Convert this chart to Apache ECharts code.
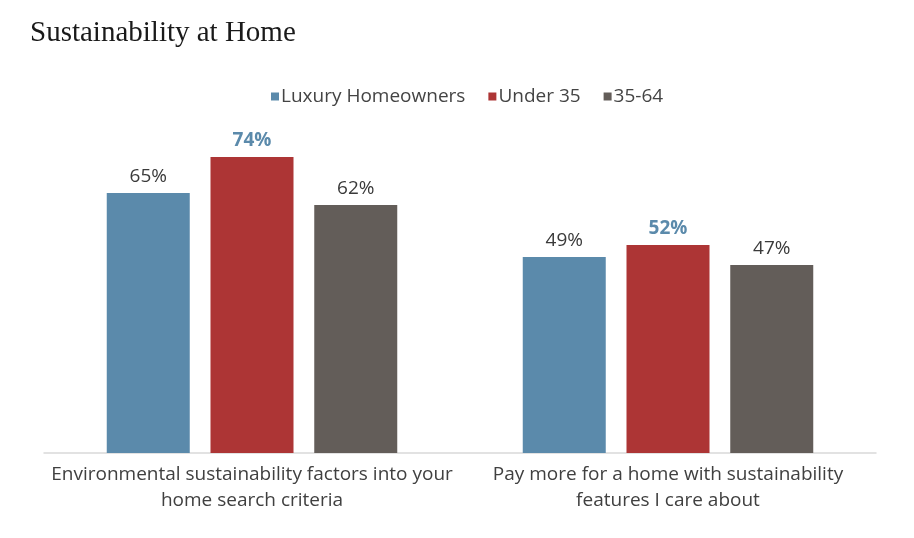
<!DOCTYPE html>
<html><head><meta charset="utf-8">
<script src="https://cdn.jsdelivr.net/npm/echarts@6/dist/echarts.min.js"></script>
<style>html,body{margin:0;padding:0;background:#fff}#c{width:914px;height:538px}</style>
</head><body><div id="c"></div>
<script>
const categories = ["Environmental sustainability factors into your\nhome search criteria", "Pay more for a home with sustainability\nfeatures I care about"];
const seriesNames = ["Luxury Homeowners", "Under 35", "35-64"];
const luxury = [65, 49];
const under35 = [74, 52];
const age35to64 = [62, 47];
const colors = ["#5b8aab", "#ad3535", "#635d59"];

const chart = echarts.init(document.getElementById('c'));
const labelFont = "'Open Sans', sans-serif";
function mk(name, data, color, highlight) {
  return {
    name: name, type: 'bar', data: data, barWidth: 83, barGap: '25%',
    itemStyle: {color: color},
    label: {show: true, position: 'top', distance: 7, formatter: '{c}%',
      fontFamily: labelFont, fontSize: 19, color: highlight ? '#5b8aab' : '#3a3a3a',
      fontWeight: highlight ? 'bold' : 'normal'}
  };
}
chart.setOption({
  animation: false,
  title: {text: 'Sustainability at Home', left: 25, top: 14,
    textStyle: {fontFamily: "'Liberation Serif', serif", fontSize: 29, fontWeight: 'normal', color: '#1a1a1a'}},
  legend: {data: seriesNames, top: 82, left: 266, itemWidth: 8, itemHeight: 8, itemGap: 23,
    icon: 'rect', textStyle: {fontFamily: labelFont, fontSize: 19, color: '#444', padding: [0,0,0,-3]}},
  grid: {left: 44, right: 38, top: 53, bottom: 85},
  xAxis: {type: 'category', data: categories,
    axisLine: {lineStyle: {color: '#d9d9d9', width: 1.5}}, axisTick: {show: false},
    axisLabel: {interval: 0, fontFamily: labelFont, fontSize: 19, color: '#404040', lineHeight: 26, margin: 9}},
  yAxis: {type: 'value', min: 0, max: 100, show: false, splitLine: {show: false}},
  series: [mk(seriesNames[0], luxury, colors[0], false), mk(seriesNames[1], under35, colors[1], true), mk(seriesNames[2], age35to64, colors[2], false)]
});
</script></body></html>
